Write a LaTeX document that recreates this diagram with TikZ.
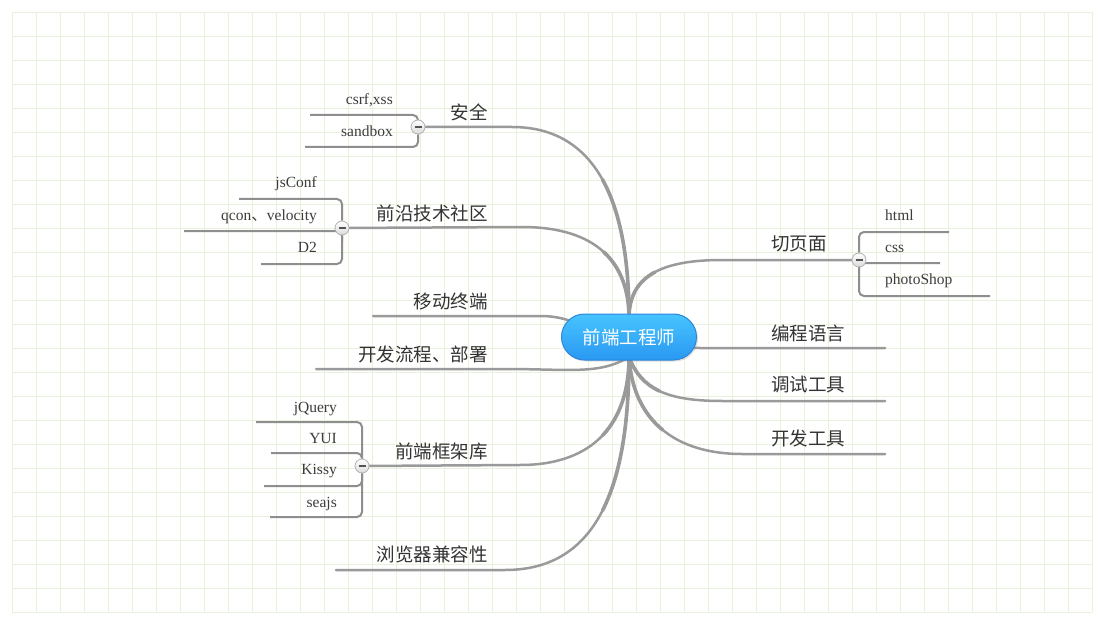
\documentclass[tikz,border=0pt]{standalone}
\usepackage{fontspec}
\setmainfont{Liberation Serif}
\newfontfamily\cjk{Noto Sans CJK SC}
\usetikzlibrary{shapes.misc,shadows}
\definecolor{gridc}{HTML}{E8F1DB}
\definecolor{branchc}{HTML}{9A9A9A}
\definecolor{childc}{HTML}{8E8E8E}
\definecolor{txtc}{HTML}{333333}
\definecolor{entxt}{HTML}{3C3C3C}
\definecolor{bluetop}{HTML}{47C4FF}
\definecolor{bluebot}{HTML}{2A98F2}
\definecolor{blueedge}{HTML}{2D86DC}
\pgfdeclarelayer{bg}
\pgfdeclarelayer{lines}
\pgfsetlayers{bg,lines,main}
\tikzset{
  gridline/.style={gridc, line width=0.9pt},
  branch/.style={branchc, line width=2.5pt, line cap=round},
  thick branch/.style={branchc, line width=3.6pt, line cap=round},
  childline/.style={childc, line width=2pt, rounded corners=5pt},
  topicL/.style={anchor=east, text=txtc, inner sep=0pt, font=\cjk\fontsize{18.5}{20}\selectfont},
  topicR/.style={anchor=west, text=txtc, inner sep=0pt, font=\cjk\fontsize{18.5}{20}\selectfont},
  leafL/.style={anchor=base east, text=entxt, inner sep=0pt, font=\fontsize{15.5}{17}\selectfont},
  leafR/.style={anchor=base west, text=entxt, inner sep=0pt, font=\fontsize{15.5}{17}\selectfont},
  collapse/.style={circle, minimum size=14pt, inner sep=0pt, draw=gray!60, line width=0.8pt,
    top color=white, bottom color=gray!28,
    path picture={\draw[line width=1.4pt, gray!65!black]
      ([xshift=-3.5pt]path picture bounding box.center) -- ([xshift=3.5pt]path picture bounding box.center);}},
  mainnode/.style={rounded rectangle, minimum width=135pt, minimum height=46pt, inner sep=0pt,
    top color=bluetop, bottom color=bluebot, draw=blueedge, line width=1pt, text=white,
    font=\cjk\fontsize{18.5}{20}\selectfont,
    drop shadow={opacity=0.25, shadow xshift=1.5pt, shadow yshift=-1.5pt}}
}
\begin{document}
\begin{tikzpicture}[x=1pt,y=-1pt]
\useasboundingbox (0,0) rectangle (1104,623);
\begin{pgfonlayer}{bg}
\fill[white] (0,0) rectangle (1104,623);
\foreach \i in {0,...,45} \draw[gridline] ({12+24*\i},12) -- ({12+24*\i},612);
\foreach \j in {0,...,25} \draw[gridline] (12,{12+24*\j}) -- (1092,{12+24*\j});
\end{pgfonlayer}

% central topic
\node[mainnode] (cn) at (629,337) {前端工程师};
\coordinate (ct) at (629,318);
\coordinate (cb) at (629,357);

% collapse buttons
\node[collapse] (cA) at (418,127) {};
\node[collapse] (cB) at (342,228) {};
\node[collapse] (cC) at (859,260) {};
\node[collapse] (cD) at (362,466) {};

% topics left
\node[topicL] (tA) at (488,112) {安全};
\node[topicL] (tB) at (488,213) {前沿技术社区};
\node[topicL] (tM) at (488,301) {移动终端};
\node[topicL] (tD) at (488,354) {开发流程、部署};
\node[topicL] (tF) at (488,451) {前端框架库};
\node[topicL] (tW) at (488,554) {浏览器兼容性};
% topics right
\node[topicR] (tQ) at (771,244) {切页面};
\node[topicR] (tP) at (771,333) {编程语言};
\node[topicR] (tT) at (771,385) {调试工具};
\node[topicR] (tK) at (771,438) {开发工具};

% leaves
\node[leafL] (l1) at (393,105) {csrf,xss};
\node[leafL] (l2) at (393,137) {sandbox};
\node[leafL] (l3) at (317,188) {jsConf};
\node[leafL] (l4) at (317,220) {qcon{\cjk 、}velocity};
\node[leafL] (l5) at (317,252) {D2};
\node[leafL] (l6) at (337,412) {jQuery};
\node[leafL] (l7) at (337,443) {YUI};
\node[leafL] (l8) at (337,474) {Kissy};
\node[leafL] (l9) at (337,507) {seajs};
\node[leafR] (r1) at (885,221) {html};
\node[leafR] (r2) at (885,252) {css};
\node[leafR] (r3) at (885,284) {photoShop};

% line end coordinates
\coordinate (aE) at (512,127);
\coordinate (aM) at (602.4,179.4);
\coordinate (bE) at (522,227);
\coordinate (bM) at (603.6,251.9);
\coordinate (mS) at (373,316);
\coordinate (mE) at (540,316);
\coordinate (dS) at (316,369);
\coordinate (dE) at (505,369);
\coordinate (fE) at (520,465);
\coordinate (fM) at (602.6,435.4);
\coordinate (wS) at (336,570);
\coordinate (wE) at (505,570);
\coordinate (wM) at (602.6,510.4);
\coordinate (qM) at (722,260);
\coordinate (qH) at (654.9,272.1);
\coordinate (pM) at (700,348);
\coordinate (pE) at (885,348);
\coordinate (tM) at (722,401);
\coordinate (tH) at (659.4,391);
\coordinate (tE) at (885,401);
\coordinate (kM) at (742,454);
\coordinate (kH) at (662.6,429.9);
\coordinate (kE) at (885,454);

\coordinate (c1) at (310,115);
\coordinate (c2) at (305,147);
\coordinate (c3) at (239,199);
\coordinate (c4) at (184,231);
\coordinate (c5) at (261,264);
\coordinate (c6) at (256,422);
\coordinate (c7) at (271,453);
\coordinate (c8) at (264,486);
\coordinate (c9) at (270,517);
\coordinate (d1) at (949,232);
\coordinate (d2) at (940,263);
\coordinate (d3) at (990,296);

\begin{pgfonlayer}{lines}
% main branches
\draw[branch] (cA) -- (aE) .. controls +(85,0) and +(0,-115) .. (ct);
\draw[branch] (cB) -- (bE) .. controls +(75,0) and +(0,-55) .. (ct);
\draw[branch] (mS) -- (mE) .. controls +(40,0) and +(-40,0) .. (cn.center);
\draw[branch] (dS) -- (dE) .. controls +(65,0) and +(-30,18) .. (cb);
\draw[branch] (cD) -- (fE) .. controls +(75,0) and +(0,65) .. (cb);
\draw[branch] (wS) -- (wE) .. controls +(95,0) and +(0,125) .. (cb);
\draw[branch] (ct) .. controls +(0,-45) and +(-55,0) .. (qM) -- (cC);
\draw[branch] (cn.center) .. controls +(30,0) and +(-30,0) .. (pM) -- (pE);
\draw[branch] (cb) .. controls +(12,32) and +(-55,0) .. (tM) -- (tE);
\draw[branch] (cb) .. controls +(4,65) and +(-65,0) .. (kM) -- (kE);
% thicker halves next to the centre
\draw[thick branch] (aM) .. controls (621,212.75) and (629,260.5) .. (ct);
\draw[thick branch] (bM) .. controls (621,267.75) and (629,290.5) .. (ct);
\draw[thick branch] (fM) .. controls (620.5,416.5) and (629,389.5) .. (cb);
\draw[thick branch] (wM) .. controls (621.75,472.75) and (629,419.5) .. (cb);
\draw[thick branch] (ct) .. controls (629,295.5) and (638.5,281) .. (qH);
\draw[thick branch] (cb) .. controls (635,373) and (644.5,384) .. (tH);
\draw[thick branch] (cb) .. controls (631,389.5) and (643,413.75) .. (kH);
% children
\draw[childline] (c1) -| (cA);
\draw[childline] (c2) -| (cA);
\draw[childline] (c3) -| (cB);
\draw[childline] (c4) -| (cB);
\draw[childline] (c5) -| (cB);
\draw[childline] (c6) -| (cD);
\draw[childline] (c7) -| (cD);
\draw[childline] (c8) -| (cD);
\draw[childline] (c9) -| (cD);
\draw[childline] (d1) -| (cC);
\draw[childline] (d2) -| (cC);
\draw[childline] (d3) -| (cC);
\end{pgfonlayer}
\end{tikzpicture}
\end{document}
